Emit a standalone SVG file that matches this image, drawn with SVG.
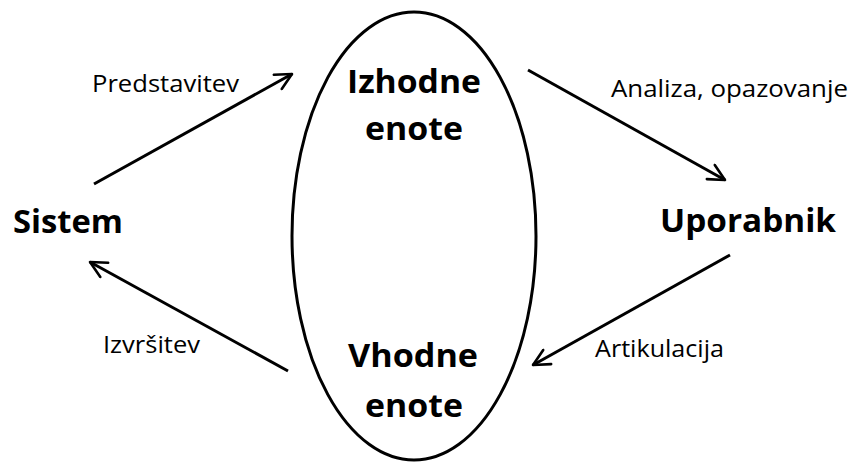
<svg xmlns="http://www.w3.org/2000/svg" width="850" height="463" viewBox="0 0 850 463">
  <style>
    .node { font-family: "Open Sans", "DejaVu Sans", sans-serif; font-weight: bold; font-size: 33px; fill: #000; }
    .lbl { font-family: "Open Sans", "DejaVu Sans", sans-serif; font-size: 23px; fill: #000; }
    .edge { stroke: #000; stroke-width: 3; fill: none; marker-end: url(#open); }
  </style>
  <defs>
    <marker id="open" viewBox="0 0 12 12" refX="11" refY="6" markerWidth="6.5" markerHeight="6.5" orient="auto" markerUnits="strokeWidth">
      <path d="M1,1 L11,6 L1,11" fill="none" stroke="#000" stroke-width="1.6" stroke-linecap="round" stroke-linejoin="round"/>
    </marker>
  </defs>
  <rect width="850" height="463" fill="#fff"/>

  <g id="enote">
    <ellipse cx="414" cy="236" rx="122" ry="224" fill="none" stroke="#000" stroke-width="3"/>
    <text class="node" x="347" y="93" textLength="134" lengthAdjust="spacingAndGlyphs">Izhodne</text>
    <text class="node" x="365" y="140" textLength="98" lengthAdjust="spacingAndGlyphs">enote</text>
    <text class="node" x="348" y="367" textLength="130" lengthAdjust="spacingAndGlyphs">Vhodne</text>
    <text class="node" x="365" y="417" textLength="98" lengthAdjust="spacingAndGlyphs">enote</text>
  </g>

  <g id="sistem">
    <text class="node" x="13" y="233" textLength="110" lengthAdjust="spacingAndGlyphs">Sistem</text>
  </g>

  <g id="uporabnik">
    <text class="node" x="660" y="232" textLength="176" lengthAdjust="spacingAndGlyphs">Uporabnik</text>
  </g>

  <g id="connectors">
    <line class="edge" x1="94" y1="184" x2="292" y2="74"/>
    <line class="edge" x1="528" y1="70" x2="725" y2="180"/>
    <line class="edge" x1="730" y1="255" x2="533" y2="365"/>
    <line class="edge" x1="288" y1="371" x2="90" y2="262"/>
  </g>

  <g id="labels">
    <text class="lbl" x="92" y="92" textLength="147" lengthAdjust="spacingAndGlyphs">Predstavitev</text>
    <text class="lbl" x="611" y="97" textLength="237" lengthAdjust="spacingAndGlyphs">Analiza, opazovanje</text>
    <text class="lbl" x="103" y="353" textLength="97" lengthAdjust="spacingAndGlyphs">Izvršitev</text>
    <text class="lbl" x="595" y="357" textLength="129" lengthAdjust="spacingAndGlyphs">Artikulacija</text>
  </g>
</svg>
